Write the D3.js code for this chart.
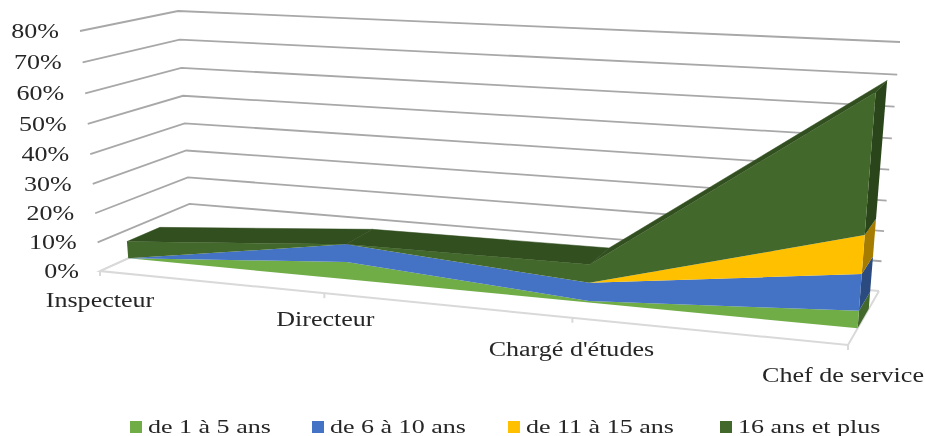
<!DOCTYPE html>
<html lang="fr">
<head>
    <meta charset="utf-8">
    <title></title>
    <script src="https://d3js.org/d3.v7.min.js"></script>
    <style type="text/css">
        body{ margin: 0; background: #fff; }
        svg{ display: block; filter: blur(0.4px); }
        text{ font-family: "Liberation Serif", serif; font-size: 20.5px; fill: #262626; }
        .legend{ font-size: 19.5px; }
    </style>
</head>
<body>
    <div id="frame"></div>
    <script type="text/javascript">

        const categories = ["Inspecteur", "Directeur", "Chargé d'études", "Chef de service"];
        const seriesNames = ["de 1 à 5 ans", "de 6 à 10 ans", "de 11 à 15 ans", "16 ans et plus"];
        const ans1a5 = [0, 6, 0.5, 5.5];
        const ans6a10 = [0, 6, 6, 11.5];
        const ans11a15 = [0, 0, 0, 12];
        const ans16plus = [6, 0, 6, 42.5];
        const tickValues = [0, 10, 20, 30, 40, 50, 60, 70, 80];

        const w = 925, h = 436;
        const front = ["#70AD47", "#4472C4", "#FFC000", "#43682B"];
        const side = ["#43682B", "#2A4A80", "#A67C00", "#2A451A"];
        const topColor = "#324F20";

        // corners of the 3D box on screen (u: along, v: depth, z: height)
        const box = {
            fl0: [100, 271], bl0: [191, 230], fr0: [848, 345], br0: [879, 291],
            fl1: [80, 31], bl1: [178, 11], fr1: [868, 72], br1: [900, 42]
        };

        //perspective squeeze
        const warp = a => t => a * t / (1 + (a - 1) * t);
        const warpU = warp(0.857), warpZ = warp(0.95);

        const xScale = d3.scalePoint().domain(categories).range([0, 1]);
        const zScale = d3.scaleLinear().domain([0, 80]).range([0, 1]);

        const lerp = (a, b, t) => [a[0] + (b[0] - a[0]) * t, a[1] + (b[1] - a[1]) * t];

        function project(u, v, value){
            const uu = warpU(u), zz = warpZ(zScale(value));
            const bottom = lerp(lerp(box.fl0, box.fr0, uu), lerp(box.bl0, box.br0, uu), v);
            const top = lerp(lerp(box.fl1, box.fr1, uu), lerp(box.bl1, box.br1, uu), v);
            return lerp(bottom, top, zz);
        }

        const vFront = 0.31, vBack = 0.67;

        const svg = d3.select("#frame").append("svg").attr("width", w).attr("height", h);
        const line = d3.line();

        //Gridlines
        tickValues.forEach(t => {
            svg.append("path")
            .attr("d", line([project(0, 0, t), project(0, 1, t), project(1, 1, t)]))
            .attr("fill", "none")
            .attr("stroke", t === 0 ? "#d9d9d9" : "#a8a8a8")
            .attr("stroke-width", 1.8);

            const p = project(0, 0, t);
            svg.append("text")
            .attr("transform", "translate(" + (p[0] - 21) + "," + (p[1] + 7) + ") scale(1.27,1)")
            .attr("text-anchor", "end")
            .text(t + "%");
        });

        //Floor
        svg.append("path")
        .attr("d", line([project(0, 1, 0), project(0, 0, 0), project(1, 0, 0), project(1, 1, 0)]))
        .attr("fill", "none")
        .attr("stroke", "#d9d9d9")
        .attr("stroke-width", 2);

        const labelOffset = [36, 33, 38, 37];
        const labelShift = [0, 1, -1, -5];
        categories.forEach((c, i) => {
            const p = project(xScale(c), 0, 0);
            svg.append("line")
            .attr("x1", p[0]).attr("y1", p[1])
            .attr("x2", p[0]).attr("y2", p[1] + 5)
            .attr("stroke", "#d9d9d9")
            .attr("stroke-width", 2);

            svg.append("text")
            .attr("transform", "translate(" + (p[0] + labelShift[i]) + "," + (p[1] + labelOffset[i]) + ") scale(1.27,1)")
            .attr("text-anchor", "middle")
            .text(c);
        });

        //Stack the series
        const rows = categories.map((c, i) => ({
            cat: c, s0: ans1a5[i], s1: ans6a10[i], s2: ans11a15[i], s3: ans16plus[i]
        }));
        const stacked = d3.stack().keys(["s0", "s1", "s2", "s3"])(rows);

        const poly = pts => line(pts) + "Z";

        //Right hand end of each band
        stacked.forEach((layer, k) => {
            const last = layer[layer.length - 1];
            const u = xScale(last.data.cat);
            svg.append("path")
            .attr("d", poly([project(u, vFront, last[0]), project(u, vBack, last[0]),
                project(u, vBack, last[1]), project(u, vFront, last[1])]))
            .attr("fill", side[k]);
        });

        //Top of the stack, far segments first
        const topLayer = stacked[stacked.length - 1];
        d3.range(topLayer.length - 1).forEach(i => {
            const u0 = xScale(topLayer[i].data.cat), u1 = xScale(topLayer[i + 1].data.cat);
            svg.append("path")
            .attr("d", poly([project(u0, vFront, topLayer[i][1]), project(u0, vBack, topLayer[i][1]),
                project(u1, vBack, topLayer[i + 1][1]), project(u1, vFront, topLayer[i + 1][1])]))
            .attr("fill", topColor)
            .attr("stroke", topColor)
            .attr("stroke-width", 0.5);
        });

        //Front faces
        const area = d3.area()
        .x0(d => project(xScale(d.data.cat), vFront, d[0])[0])
        .y0(d => project(xScale(d.data.cat), vFront, d[0])[1])
        .x1(d => project(xScale(d.data.cat), vFront, d[1])[0])
        .y1(d => project(xScale(d.data.cat), vFront, d[1])[1]);

        svg.selectAll("path.band")
        .data(stacked)
        .enter()
        .append("path")
        .attr("class", "band")
        .attr("fill", (d, i) => front[i])
        .attr("d", area);

        //Legend
        const legendX = [130, 312, 508, 720];
        seriesNames.forEach((s, i) => {
            svg.append("rect")
            .attr("x", legendX[i]).attr("y", 421)
            .attr("width", 12).attr("height", 12)
            .attr("fill", front[i]);

            svg.append("text")
            .attr("class", "legend")
            .attr("transform", "translate(" + (legendX[i] + 18) + ",433) scale(1.335,1)")
            .text(s);
        });

    </script>
</body>
</html>
